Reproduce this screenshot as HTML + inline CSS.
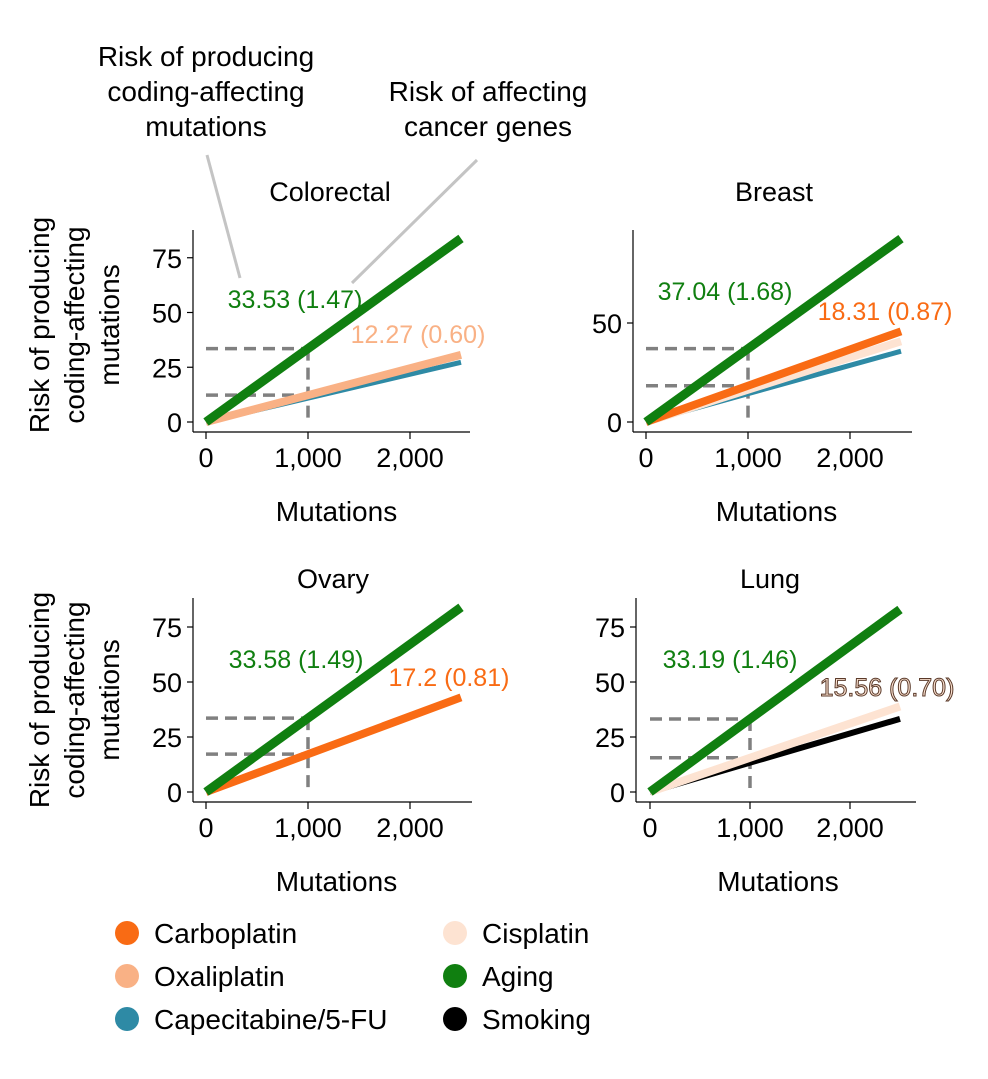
<!DOCTYPE html>
<html><head><meta charset="utf-8"><style>
body{margin:0;background:#fff;}
svg{font-family:"Liberation Sans",Arial,sans-serif;}
</style></head><body>
<svg id="c" width="988" height="1074" viewBox="0 0 988 1074"></svg>
<script>
const panelNames=["Colorectal","Breast","Ovary","Lung"];
const colorectalSeries=["Capecitabine/5-FU","Oxaliplatin","Aging"];
const colorectalSlopes=[10.9,12.27,33.53];
const breastSeries=["Capecitabine/5-FU","Cisplatin","Carboplatin","Aging"];
const breastSlopes=[14.3,16.3,18.31,37.04];
const ovarySeries=["Carboplatin","Aging"];
const ovarySlopes=[17.2,33.58];
const lungSeries=["Smoking","Cisplatin","Aging"];
const lungSlopes=[13.3,15.56,33.19];
const xTicks=[0,1000,2000];
const xTickLabels=["0","1,000","2,000"];
const yTicksA=[0,25,50,75];
const yTicksB=[0,50];
const labelTexts=[["33.53 (1.47)","12.27 (0.60)"],["37.04 (1.68)","18.31 (0.87)"],["33.58 (1.49)","17.2 (0.81)"],["33.19 (1.46)","15.56 (0.70)"]];
const legendNames=["Carboplatin","Oxaliplatin","Capecitabine/5-FU","Cisplatin","Aging","Smoking"];

const colors={"Carboplatin":"#f96b14","Oxaliplatin":"#f9b185","Capecitabine/5-FU":"#2e8aa5","Cisplatin":"#fde3d2","Aging":"#107f10","Smoking":"#000"};
const widths={"Carboplatin":8,"Oxaliplatin":8,"Capecitabine/5-FU":5,"Cisplatin":8,"Aging":9,"Smoking":6};
const svg=document.getElementById('c');
const NS="http://www.w3.org/2000/svg";
function mk(tag,attrs,parent,text){const e=document.createElementNS(NS,tag);for(const k in attrs)e.setAttribute(k,attrs[k]);if(text!==undefined)e.textContent=text;(parent||svg).appendChild(e);return e;}

const panels=[
 {x0:206,ppx:0.102,y0:422,ppy:2.19,left:193,top:230,bottom:432,right:470,series:colorectalSeries,slopes:colorectalSlopes,yt:yTicksA,lab:[[295,308],[418,343]],lc:["#107f10","#f9b185"],refIdx:1},
 {x0:646,ppx:0.102,y0:422,ppy:1.98,left:633,top:230,bottom:432,right:912,series:breastSeries,slopes:breastSlopes,yt:yTicksB,lab:[[725,300],[885,320]],lc:["#107f10","#f96b14"],refIdx:2},
 {x0:206,ppx:0.102,y0:792,ppy:2.2,left:193,top:598,bottom:802,right:472,series:ovarySeries,slopes:ovarySlopes,yt:yTicksA,lab:[[296,668],[449,686]],lc:["#107f10","#f96b14"],refIdx:0},
 {x0:650,ppx:0.1,y0:792,ppy:2.2,left:636,top:598,bottom:802,right:916,series:lungSeries,slopes:lungSlopes,yt:yTicksA,lab:[[730,668],[887,696]],lc:["#107f10","#fde3d2"],refIdx:1,outline:true}
];
const titlePos=[[330,201],[774,201],[333,588],[770,588]];
panels.forEach((p,i)=>{
  const g=mk('g',{});
  
  
  const X=v=>p.x0+v*p.ppx, Y=v=>p.y0-v*p.ppy;
  const t=mk('text',{x:titlePos[i][0],y:titlePos[i][1],'text-anchor':'middle','font-size':27,fill:'#000'},g,panelNames[i]);
  
  mk('line',{x1:p.left,y1:p.top,x2:p.left,y2:p.bottom,stroke:'#000','stroke-width':1.2},g);
  mk('line',{x1:p.left,y1:p.bottom,x2:p.right,y2:p.bottom,stroke:'#000','stroke-width':1.2},g);
  p.yt.forEach(v=>{mk('line',{x1:p.left-6,y1:Y(v),x2:p.left,y2:Y(v),stroke:'#000','stroke-width':1.2},g);
    const l=mk('text',{x:p.left-11,y:Y(v)+10,'text-anchor':'end','font-size':27},g,String(v));
    });
  xTicks.forEach((v,k)=>{mk('line',{x1:X(v),y1:p.bottom,x2:X(v),y2:p.bottom+7,stroke:'#000','stroke-width':1.2},g);
    const l=mk('text',{x:X(v),y:p.bottom+35,'text-anchor':'middle','font-size':27},g,xTickLabels[k]);
    });
  const xl=mk('text',{x:(X(0)+X(2500))/2+3,y:p.bottom+89,'text-anchor':'middle','font-size':28},g,'Mutations');
  
  const aging=p.slopes[p.slopes.length-1], ref=p.slopes[p.refIdx];
  [aging,ref].forEach(v=>{mk('line',{x1:X(0),y1:Y(v),x2:X(1000),y2:Y(v),stroke:'#808080','stroke-width':3.5,'stroke-dasharray':'12,7'},g);});
  mk('line',{x1:X(1000),y1:Y(aging),x2:X(1000),y2:p.y0+1,stroke:'#808080','stroke-width':3.5,'stroke-dasharray':'12,7'},g);
  p.series.forEach((s,k)=>{
    const ln=mk('line',{x1:X(0),y1:Y(0),x2:X(2500),y2:Y(p.slopes[k]*2.5),stroke:colors[s],'stroke-width':widths[s]},g);
    
    
  });
  p.lab.forEach((pos,k)=>{
    const a={x:pos[0],y:pos[1],'text-anchor':'middle','font-size':25,fill:p.lc[k]};
    if(p.outline&&k==1){a.stroke='#5a3a2a';a['stroke-width']=1;a['paint-order']='fill';}
    const l=mk('text',a,g,labelTexts[i][k]);
    
  });
});
[[325],[700]].forEach((c,i)=>{
  const g=mk('g',{transform:`translate(0,${c[0]}) rotate(-90)`});
  
  ["Risk of producing","coding-affecting","mutations"].forEach((s,k)=>mk('text',{x:0,y:49+k*35,'text-anchor':'middle','font-size':28},g,s));
});
const ag=mk('g',{});
["Risk of producing","coding-affecting","mutations"].forEach((s,k)=>mk('text',{x:206,y:66+k*35,'text-anchor':'middle','font-size':28},ag,s));
["Risk of affecting","cancer genes"].forEach((s,k)=>mk('text',{x:488,y:101+k*35,'text-anchor':'middle','font-size':28},ag,s));
mk('line',{x1:207,y1:155,x2:240,y2:278,stroke:'#c4c4c4','stroke-width':3},ag);
mk('line',{x1:477,y1:160,x2:352,y2:283,stroke:'#c4c4c4','stroke-width':3},ag);
legendNames.forEach((n,k)=>{
  const col=Math.floor(k/3),row=k%3;
  const g=mk('g',{});
  
  
  const cx=col?455:127,cy=933+row*43;
  mk('circle',{cx:cx,cy:cy,r:12,fill:colors[n]},g);
  mk('text',{x:cx+27,y:cy+10,'font-size':28},g,n);
});
</script>
</body></html>
